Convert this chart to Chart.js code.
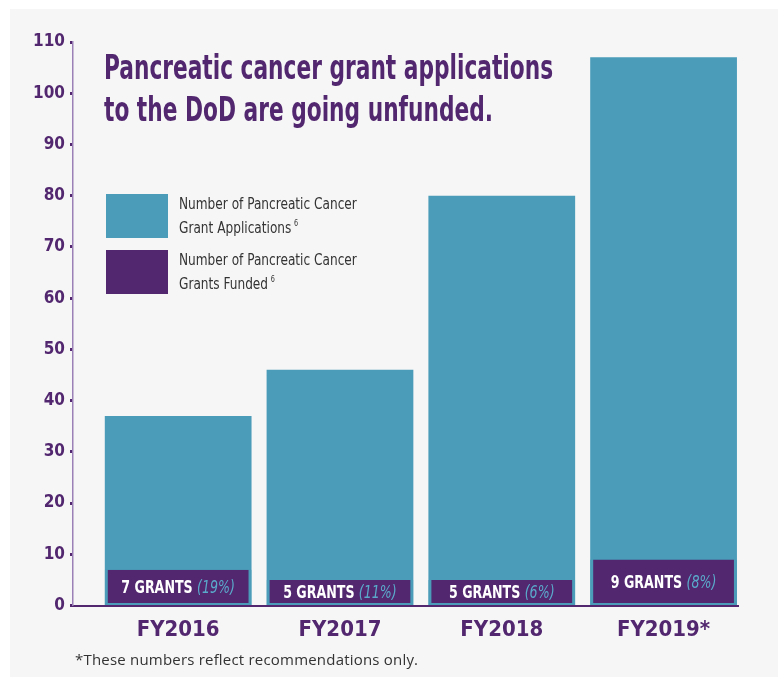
<!DOCTYPE html>
<html>
<head>
<meta charset="utf-8">
<script src="https://cdn.jsdelivr.net/npm/chart.js@4"></script>
<style>
  body { margin: 0; background: #fff; }
  .panel { position: absolute; left: 10px; top: 9px; width: 768px; height: 668px; background: #f6f6f6; }
  .wrap { position: absolute; left: 0; top: 0; width: 783px; height: 677px; }
  .title {
    position: absolute; left: 104px; top: 46px; margin: 0; white-space: nowrap;
    font-family: "DejaVu Sans Condensed", "DejaVu Sans", sans-serif;
    font-weight: bold; font-size: 34px; line-height: 42px; color: #52276f;
    transform: scaleX(0.71); transform-origin: 0 0;
  }
  .legend { position: absolute; left: 106px; top: 194px; }
  .legend .item { display: flex; align-items: center; height: 44px; margin-bottom: 12px; }
  .legend .sw { width: 62px; height: 44px; margin-right: 11px; flex: none; }
  .legend .txt {
    font-family: "DejaVu Sans Condensed", "DejaVu Sans", sans-serif; white-space: nowrap;
    font-size: 15px; line-height: 19px; color: #333;
    transform: scaleX(0.9); transform-origin: 0 50%;
  }
  .legend sup { font-size: 8px; vertical-align: 7px; margin-left: 3px; }
  .note {
    position: absolute; left: 75px; top: 649px; letter-spacing: 0.2px;
    font-family: "Open Sans", sans-serif; font-size: 15px; color: #333;
  }
</style>
</head>
<body>
<div class="panel"></div>
<div class="wrap"><canvas id="chart" width="783" height="677"></canvas></div>
<h1 class="title">Pancreatic cancer grant applications<br>to the DoD are going unfunded.</h1>
<div class="legend" id="legend"></div>
<div class="note">*These numbers reflect recommendations only.</div>
<script>
// data
const categories = ['FY2016', 'FY2017', 'FY2018', 'FY2019*'];
const applications = [37, 46, 80, 107];
const funded = [7, 5, 5, 9];
const fundedPct = ['19%', '11%', '6%', '8%'];
const yTicks = [0, 10, 20, 30, 40, 50, 60, 70, 80, 90, 100, 110];

const teal = '#4a9cb9';
const purple = '#52276f';
const font = '"DejaVu Sans Condensed", "DejaVu Sans", sans-serif';

// legend
const legendItems = [
  { color: teal, text: 'Number of Pancreatic Cancer<br>Grant Applications<sup>6</sup>' },
  { color: purple, text: 'Number of Pancreatic Cancer<br>Grants Funded<sup>6</sup>' },
];
document.getElementById('legend').innerHTML = legendItems.map(it =>
  `<div class="item"><div class="sw" style="background:${it.color}"></div><div class="txt">${it.text}</div></div>`
).join('');

// labels inside funded bars
const grantLabels = {
  id: 'grantLabels',
  afterDatasetsDraw(chart) {
    const ctx = chart.ctx;
    const meta = chart.getDatasetMeta(1);
    const sx = 0.78;
    meta.data.forEach((bar, i) => {
      const a = funded[i] + ' GRANTS ';
      const b = '(' + fundedPct[i] + ')';
      ctx.save();
      ctx.textBaseline = 'middle';
      ctx.font = 'bold 18px ' + font;
      const wa = ctx.measureText(a).width;
      ctx.font = 'italic 18px ' + font;
      const wb = ctx.measureText(b).width;
      const y = (bar.y + bar.base) / 2 + 1;
      ctx.translate(bar.x, y);
      ctx.scale(sx, 1);
      const x0 = -(wa + wb) / 2;
      ctx.font = 'bold 18px ' + font;
      ctx.fillStyle = '#ffffff';
      ctx.fillText(a, x0, 0);
      ctx.font = 'italic 18px ' + font;
      ctx.fillStyle = '#5aaacb';
      ctx.fillText(b, x0 + wa, 0);
      ctx.restore();
    });
  }
};

new Chart(document.getElementById('chart'), {
  type: 'bar',
  data: {
    datasets: [
      {
        label: 'Applications',
        data: applications.map((v, i) => ({ x: i, y: v })),
        backgroundColor: teal,
        categoryPercentage: 0.907,
        barPercentage: 1,
        order: 2,
      },
      {
        label: 'Funded',
        data: funded.map((v, i) => ({ x: i, y: v })),
        backgroundColor: purple,
        borderColor: teal,
        borderWidth: { left: 3, right: 3, bottom: 2, top: 0 },
        borderSkipped: false,
        categoryPercentage: 0.907,
        barPercentage: 1,
        order: 1,
      },
    ],
  },
  options: {
    responsive: false,
    animation: false,
    grouped: false,
    layout: { padding: { top: 42, right: 45, left: 0, bottom: 0 } },
    plugins: {
      legend: { display: false },
      tooltip: { enabled: false },
    },
    scales: {
      x: {
        type: 'linear',
        offset: false,
        min: -0.65,
        max: 3.46,
        afterBuildTicks: (scale) => {
          scale.ticks = categories.map((c, i) => ({ value: i }));
        },
        afterFit: (scale) => { scale.height = 71.5; },
        grid: { display: true, drawOnChartArea: false, drawTicks: false },
        border: { display: true, color: purple, width: 2 },
        ticks: {
          padding: 12,
          color: purple,
          font: { family: font, size: 22, weight: 'bold' },
          callback: (v) => categories[v],
        },
      },
      y: {
        min: 0,
        max: 110,
        afterBuildTicks: (scale) => {
          scale.ticks = yTicks.map(v => ({ value: v }));
        },
        afterFit: (scale) => { scale.width = 73; },
        grid: { display: true, drawOnChartArea: false, tickLength: 3, tickWidth: 3, tickColor: purple },
        border: { display: true, color: '#9a80b6', width: 1.5 },
        ticks: {
          padding: 5,
          color: purple,
          font: { family: font, size: 17, weight: 'bold' },
        },
      },
    },
  },
  plugins: [grantLabels],
});
</script>
</body>
</html>
